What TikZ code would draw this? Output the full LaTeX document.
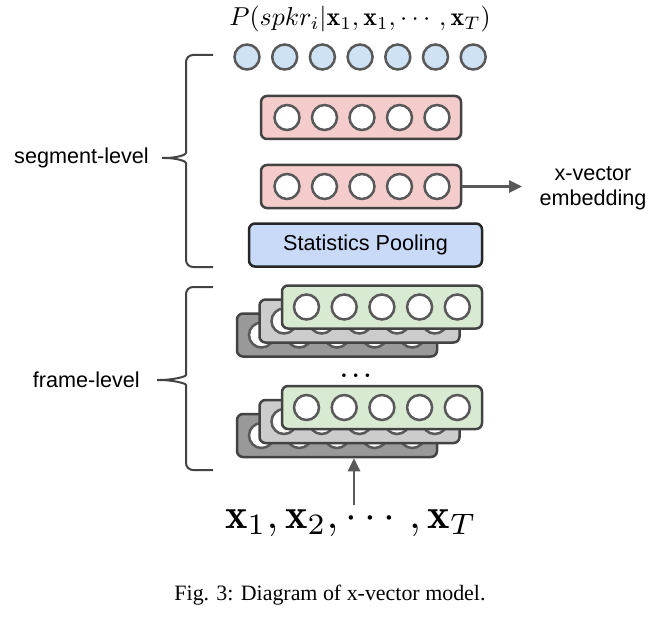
\documentclass[tikz,border=0pt]{standalone}
\usepackage{amsmath}
\usepackage{fontspec}
\setsansfont{Liberation Sans}
\newfontfamily\capfont{Liberation Serif}
\usetikzlibrary{arrows.meta,positioning}
\definecolor{cunit}{HTML}{595959}
\definecolor{cedge}{HTML}{434343}
\definecolor{cblue}{HTML}{CFE2F3}
\definecolor{cstat}{HTML}{C9DAF8}
\definecolor{cpink}{HTML}{F4CCCC}
\definecolor{cgreen}{HTML}{D9EAD3}
\definecolor{cltgray}{HTML}{CCCCCC}
\definecolor{cdkgray}{HTML}{999999}

\begin{document}
\begin{tikzpicture}[x=1bp,y=-1bp, unit/.style={circle,draw=cunit,line width=2.5bp,fill=white,minimum size=25bp,inner sep=0pt}, layer/.style={rectangle,rounded corners=6bp,draw=cedge,line width=2.5bp,minimum width=200bp,minimum height=43bp,inner sep=0pt}, mytext/.style={font=\sffamily\fontsize{21.7}{25}\selectfont,inner sep=0pt}, arr/.style={draw=cunit,line width=2.5bp,-{Triangle[length=13bp,width=12bp]}}, brace/.style={draw=cedge,line width=2bp,rounded corners=7bp}]
         \useasboundingbox (0,0) rectangle (665,626);
         \node[inner sep=0pt,scale=2.6] (prob) at (360,19) {$P(spkr_i|\mathbf{x}_1,\mathbf{x}_1,\cdots,\mathbf{x}_T)$};
         \foreach \i in {1,...,7} \node[unit,fill=cblue] (out-\i) at (247+37.7*\i-37.7,57) {};
         \foreach \s/\y in {1/117.5,2/186.5} {
           \node[layer,fill=cpink] (seg\s) at (361,\y) {};
           \foreach \i in {1,...,5} \node[unit] (seg\s-\i) at (287+37.5*\i-37.5,\y) {};
         }
         \node[layer,mytext,fill=cstat,draw=black!85,minimum width=233bp] (pool) at (365.5,245) {Statistics Pooling};
         \foreach \s/\gy in {a/307,b/407.5} {
           \foreach \l/\cx/\dy/\col in {3/337/28/cdkgray,2/359.5/14/cltgray,1/382/0/cgreen} {
             \node[layer,fill=\col] (\s\l) at (\cx,\gy+\dy) {};
             \foreach \i in {1,...,5} \node[unit] (\s\l-\i) at (\cx-75.5+37.7*\i-37.7,\gy+\dy) {};
           }
         }
         \node[inner sep=0pt,scale=2.3,font=\boldmath] (dots) at (358,376) {$\cdots$};
         % embedding output
         \coordinate (xvec) at (522,186.5);
         \draw[arr] (seg2.east) -- (xvec);
         \node[mytext,align=center] (xlab) at (593,188) {x-vector\\embedding};
         % input
         \node[inner sep=0pt,scale=4.25] (inp) at (351,523) {$\mathbf{x}_1,\mathbf{x}_2,\cdots,\mathbf{x}_T$};
         \coordinate (inptop) at (354,505);
         \draw[arr] (inptop) -- (inptop |- b3.south);
         % braces
         \coordinate (segtip) at (158,158);
         \coordinate (frmtip) at (153,380);
         \draw[brace] (213,55) -- (186,55) -- (186,146) .. controls (186,155) and (176,158) .. (segtip) .. controls (176,158) and (186,161) .. (186,170) -- (186,267) -- (213,267);
         \draw[brace] (213,287) -- (186,287) -- (186,368) .. controls (186,377) and (171,380) .. (frmtip) .. controls (171,380) and (186,383) .. (186,392) -- (186,470) -- (213,470);
         \node[mytext,left=9bp of segtip] (seglab) {segment-level};
         \node[mytext,left=13bp of frmtip] (frmlab) {frame-level};
         \node[inner sep=0pt,font=\capfont\fontsize{22}{26}\selectfont] (cap) at (330,595) {Fig. 3: Diagram of x-vector model.};
 \end{tikzpicture}
\end{document}
